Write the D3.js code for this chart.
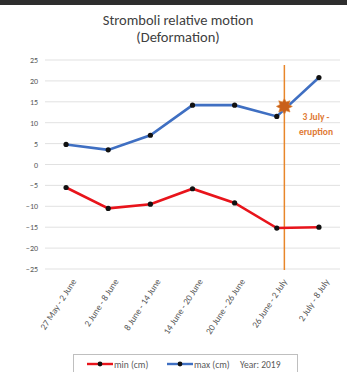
<!DOCTYPE html>
<html>
<head>
<meta charset="utf-8">
<script src="https://cdn.jsdelivr.net/npm/d3@7"></script>
<style>
  body { margin: 0; background: #fff; }
  svg { display: block; font-family: Calibri, Carlito, "Open Sans", sans-serif; }
</style>
</head>
<body>
<svg></svg>
<script>
var width = 347;
var height = 372;

var weeks = ["27 May - 2 June", "2 June - 8 June", "8 June - 14 June", "14 June - 20 June",
  "20 June  - 26 June", "26 June - 2 July", "2 July - 8 July"];
var minCm = [-5.5, -10.5, -9.5, -5.8, -9.2, -15.2, -15.0];
var maxCm = [4.8, 3.5, 7.0, 14.2, 14.2, 11.5, 20.8];
var yTicks = [25, 20, 15, 10, 5, 0, -5, -10, -15, -20, -25];
// eruption marker: position between the 6th and 7th week, and value on the max line
var eruptionPos = 5.18;
var eruptionVal = 13.9;

var svg = d3.select("svg")
  .attr("width", width)
  .attr("height", height);

// dark strip at top of the screenshot
svg.append("rect").attr("x", 0).attr("y", 0).attr("width", width).attr("height", 5).attr("fill", "#2e2e2e");

var x = d3.scaleLinear().domain([-0.5, 6.5]).range([45, 340]);
var y = d3.scaleLinear().domain([-25, 25]).range([269, 60]);

svg.append("text").attr("x", 178).attr("y", 25).attr("text-anchor", "middle")
  .attr("font-size", 14.5).attr("fill", "#404040").text("Stromboli relative motion");
svg.append("text").attr("x", 178).attr("y", 42).attr("text-anchor", "middle")
  .attr("font-size", 14.5).attr("fill", "#404040").text("(Deformation)");

// gridlines
svg.append("g").selectAll("line")
  .data(yTicks).enter().append("line")
  .attr("x1", x(-0.5)).attr("x2", x(6.5))
  .attr("y1", function(d) { return y(d); })
  .attr("y2", function(d) { return y(d); })
  .attr("stroke", "#d9d9d9").attr("stroke-width", 0.8);

var yAxis = svg.append("g")
  .attr("transform", "translate(" + x(-0.5) + ",0)")
  .call(d3.axisLeft(y).tickValues(yTicks).tickSize(0).tickPadding(7));
yAxis.select(".domain").remove();
yAxis.selectAll("text").attr("font-size", 8).attr("fill", "#595959")
  .attr("font-family", "Calibri, Carlito, 'Open Sans', sans-serif");

var xAxis = svg.append("g")
  .attr("transform", "translate(0," + y(-25) + ")")
  .call(d3.axisBottom(x).tickValues(d3.range(weeks.length)).tickFormat(function(i) { return weeks[i]; }).tickSize(0));
xAxis.select(".domain").remove();
xAxis.selectAll("text")
  .attr("font-size", 9.2).attr("fill", "#595959")
  .attr("font-family", "Calibri, Carlito, 'Open Sans', sans-serif")
  .attr("text-anchor", "end")
  .attr("dy", "0.35em")
  .attr("transform", "translate(5,9) rotate(-57)");

// eruption line
svg.append("line")
  .attr("x1", x(eruptionPos)).attr("x2", x(eruptionPos))
  .attr("y1", 65).attr("y2", y(-25) + 1)
  .attr("stroke", "#e8862a").attr("stroke-width", 1.5);

var line = d3.line()
  .x(function(d, i) { return x(i); })
  .y(function(d) { return y(d); });

var series = [
  { name: "min (cm)", values: minCm, color: "#e8141b" },
  { name: "max (cm)", values: maxCm, color: "#3f6fc2" }
];

series.forEach(function(s) {
  svg.append("path").datum(s.values)
    .attr("d", line).attr("fill", "none")
    .attr("stroke", s.color).attr("stroke-width", 2.6);
  svg.append("g").selectAll("circle")
    .data(s.values).enter().append("circle")
    .attr("cx", function(d, i) { return x(i); })
    .attr("cy", function(d) { return y(d); })
    .attr("r", 2.6).attr("fill", "#111");
});

// 8-point star marker
var starPts = d3.range(16).map(function(k) {
  return [k * Math.PI / 8, k % 2 ? 4.8 : 8];
});
svg.append("path")
  .attr("d", d3.lineRadial().curve(d3.curveLinearClosed)(starPts))
  .attr("transform", "translate(" + x(eruptionPos) + "," + y(eruptionVal) + ")")
  .attr("fill", "#c9601a").attr("stroke", "#e08a3a").attr("stroke-width", 0.6);

svg.append("text").attr("x", 316).attr("y", 120).attr("text-anchor", "middle")
  .attr("font-size", 9.5).attr("font-weight", "bold").attr("fill", "#e07a35").text("3 July -");
svg.append("text").attr("x", 316).attr("y", 135).attr("text-anchor", "middle")
  .attr("font-size", 9.5).attr("font-weight", "bold").attr("fill", "#e07a35").text("eruption");

// legend
var legend = svg.append("g");
legend.append("rect").attr("x", 73.5).attr("y", 354.5).attr("width", 224).attr("height", 22)
  .attr("fill", "#fff").attr("stroke", "#bfbfbf").attr("stroke-width", 1);
var items = [{ s: series[0], x0: 87 }, { s: series[1], x0: 167 }];
items.forEach(function(it) {
  legend.append("line").attr("x1", it.x0).attr("x2", it.x0 + 26)
    .attr("y1", 364).attr("y2", 364).attr("stroke", it.s.color).attr("stroke-width", 2.4);
  legend.append("circle").attr("cx", it.x0 + 13).attr("cy", 364).attr("r", 2.4).attr("fill", "#111");
  legend.append("text").attr("x", it.x0 + 27).attr("y", 367.5).attr("font-size", 9.5)
    .attr("fill", "#595959").text(it.s.name);
});
legend.append("text").attr("x", 240).attr("y", 367.5).attr("font-size", 9.5)
  .attr("fill", "#595959").text("Year: 2019");
</script>
</body>
</html>
